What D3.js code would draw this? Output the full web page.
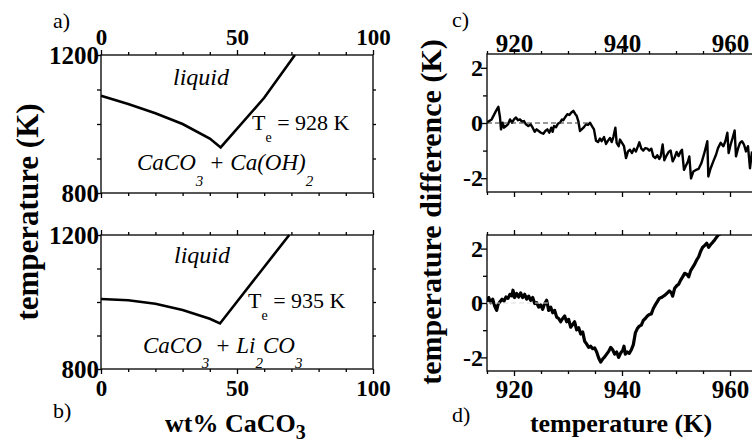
<!DOCTYPE html>
<html>
<head>
<meta charset="utf-8">
<script src="https://cdn.jsdelivr.net/npm/d3@7"></script>
<style>
  body { margin: 0; background: #fff; }
  text { font-family: "Liberation Serif", "Times New Roman", serif; fill: #000; white-space: pre; }
</style>
</head>
<body>
<svg id="fig" width="752" height="445"></svg>
<script>
// liquidus curves (wt% CaCO3, K)
const aWt = [0, 10, 20, 30, 40, 44, 60, 71.3];
const aT = [1082, 1058, 1031, 1000, 958, 932, 1076, 1200];
const bWt = [0, 10, 20, 30, 40, 43.75, 69.2];
const bT = [1009, 1005, 995, 976, 950, 936, 1200];

// c) temperature difference vs temperature
const cTemp = [914.94, 915.86, 916.67, 917.10, 917.41, 917.59, 917.90, 918.15, 918.52, 918.89, 919.26, 919.63, 920.00, 920.37, 920.74, 921.11, 921.48, 921.85, 922.22, 922.65, 923.09, 923.46, 923.83, 924.20, 924.57, 924.94, 925.43, 925.80, 926.17, 926.54, 926.91, 927.16, 927.41, 927.78, 928.15, 928.52, 928.89, 929.14, 929.51, 929.88, 930.25, 930.62, 930.99, 931.36, 931.60, 931.91, 932.22, 932.53, 932.96, 933.33, 933.70, 934.07, 934.44, 934.81, 935.19, 935.56, 935.93, 936.23, 936.67, 937.04, 937.41, 937.78, 938.09, 938.40, 938.77, 939.01, 939.38, 939.63, 940.00, 940.37, 940.74, 941.11, 941.48, 941.85, 942.22, 942.59, 942.96, 943.21, 943.58, 943.95, 944.32, 944.69, 945.06, 945.43, 945.80, 946.17, 946.54, 946.91, 947.16, 947.53, 947.84, 948.27, 948.64, 949.01, 949.38, 949.75, 950.12, 950.49, 950.86, 951.11, 951.48, 951.85, 952.22, 952.47, 952.78, 953.21, 953.70, 954.20, 954.69, 955.19, 955.80, 955.99, 956.42, 956.91, 957.41, 957.78, 958.27, 958.77, 959.14, 959.51, 959.75, 960.12, 960.49, 960.86, 961.11, 961.48, 961.85, 962.22, 962.59, 962.96, 963.33, 963.70, 964.07];
const cDiff = [0.01, 0.13, 0.44, 0.59, 0.20, -0.23, 0.01, -0.17, -0.11, -0.05, 0.13, 0.01, 0.13, 0.20, 0.10, 0.13, 0.05, 0.07, -0.05, -0.11, -0.05, -0.17, -0.32, -0.23, -0.29, -0.35, -0.39, -0.29, -0.23, -0.35, -0.17, -0.32, -0.11, -0.15, -0.02, 0.01, 0.13, 0.10, 0.22, 0.32, 0.29, 0.38, 0.44, 0.32, 0.26, 0.07, -0.29, -0.23, -0.15, -0.05, -0.07, 0.01, -0.11, -0.23, -0.64, -0.69, -0.56, -0.66, -0.51, -0.76, -0.64, -0.54, -0.69, -0.51, -0.17, -0.72, -0.84, -0.60, -0.72, -0.84, -1.27, -1.03, -0.97, -1.09, -0.93, -1.03, -0.84, -0.70, -0.93, -1.00, -0.91, -0.93, -1.00, -0.93, -1.21, -1.27, -1.17, -1.30, -1.21, -0.78, -1.35, -1.17, -1.05, -1.00, -1.39, -1.25, -1.05, -1.20, -1.03, -0.97, -1.70, -1.54, -1.39, -1.21, -2.01, -1.76, -1.70, -1.66, -1.46, -1.13, -0.66, -1.94, -1.64, -1.39, -1.15, -0.91, -0.72, -0.84, -0.66, -0.35, -1.09, -0.78, -0.54, -0.27, -1.21, -0.93, -0.72, -0.66, -0.78, -1.03, -0.84, -1.64, -1.03];

// d) temperature difference vs temperature
const dTemp = [914.94, 915.31, 915.68, 916.05, 916.42, 916.79, 917.04, 917.41, 917.78, 918.15, 918.52, 918.89, 919.26, 919.63, 919.81, 920.12, 920.49, 920.86, 921.23, 921.60, 921.98, 922.35, 922.72, 923.09, 923.46, 923.83, 924.20, 924.57, 924.94, 925.31, 925.68, 926.05, 926.42, 926.79, 927.16, 927.53, 927.90, 928.27, 928.64, 929.01, 929.38, 929.75, 930.12, 930.49, 930.86, 931.23, 931.60, 931.98, 932.35, 932.72, 933.09, 933.46, 933.83, 934.20, 934.57, 934.94, 935.31, 935.68, 936.05, 936.42, 936.79, 937.16, 937.53, 937.90, 938.27, 938.64, 939.01, 939.38, 939.75, 940.12, 940.37, 940.62, 940.99, 941.36, 941.73, 942.10, 942.47, 942.84, 943.21, 943.58, 943.95, 944.32, 944.69, 945.06, 945.43, 945.80, 946.17, 946.54, 946.91, 947.28, 947.65, 948.02, 948.40, 948.77, 949.14, 949.38, 949.75, 950.12, 950.49, 950.86, 951.23, 951.60, 951.98, 952.35, 952.72, 953.09, 953.46, 953.83, 954.20, 954.57, 954.94, 955.31, 955.68, 956.05, 956.42, 956.79, 957.16, 957.53, 957.90, 958.27];
const dDiff = [0.05, 0.20, 0.01, 0.14, -0.11, -0.27, -0.05, 0.05, 0.14, 0.07, 0.22, 0.17, 0.32, 0.26, 0.47, 0.20, 0.35, 0.22, 0.37, 0.20, 0.32, 0.14, 0.25, 0.10, 0.20, -0.02, 0.01, -0.15, -0.07, -0.23, -0.02, 0.10, -0.27, -0.15, -0.36, -0.27, -0.52, -0.57, -0.69, -0.57, -0.48, -0.69, -0.60, -0.89, -0.79, -0.69, -0.99, -0.91, -1.14, -1.06, -1.41, -1.51, -1.63, -1.59, -1.68, -1.65, -1.80, -2.02, -2.17, -2.06, -1.98, -1.88, -1.78, -1.63, -1.72, -1.88, -1.80, -2.00, -1.84, -1.75, -1.59, -1.88, -1.80, -1.85, -1.72, -1.53, -1.10, -0.94, -0.85, -0.81, -0.64, -0.57, -0.48, -0.42, -0.40, -0.20, -0.07, 0.05, 0.17, 0.20, 0.25, 0.30, 0.37, 0.44, 0.38, 0.25, 0.54, 0.63, 0.69, 0.84, 0.96, 1.09, 1.06, 0.96, 1.19, 1.31, 1.43, 1.58, 1.70, 1.90, 2.05, 2.11, 2.20, 2.05, 2.15, 2.23, 2.32, 2.42, 2.52, 2.54];

// zero reference segments (temperature extent)
const cZero = [915, 934];
const dZero = [915, 926.5];

// tick values
const wtMajor = [0, 50, 100];
const wtMinor = d3.range(10, 100, 10).filter(d => d !== 50);
const tMajor = [800, 1200];
const tMinor = [900, 1000, 1100];
const kMajor = [920, 940, 960];
const kMinor = [915, 925, 930, 935, 945, 950, 955, 965];
const dfMajor = [-2, 0, 2];
const dfMinor = [-1, 1];

const svg = d3.select("#fig");

const xWt = d3.scaleLinear().domain([0, 100]).range([101, 373]);
const yA = d3.scaleLinear().domain([800, 1200]).range([193, 55]);
const yB = d3.scaleLinear().domain([800, 1200]).range([369, 235]);
const xK = d3.scaleLinear().domain([915, 970]).range([487, 784]);
const yC = d3.scaleLinear().domain([-2.5, 2.5]).range([192, 54]);
const yD = d3.scaleLinear().domain([-2.5, 2.5]).range([371, 235]);

const axisOf = { top: d3.axisTop, bottom: d3.axisBottom, left: d3.axisLeft, right: d3.axisRight };

function place(orient, at) {
  return (orient === "top" || orient === "bottom") ? "translate(0," + at + ")" : "translate(" + at + ",0)";
}

function marks(orient, scale, at, values, size) {
  svg.append("g").attr("transform", place(orient, at))
    .call(axisOf[orient](scale).tickValues(values).tickSize(size).tickFormat(""))
    .call(g => g.select(".domain").remove())
    .call(g => g.selectAll("line").attr("stroke", "#000").attr("stroke-width", 1.3));
}

function labels(orient, scale, at, values, pad, size) {
  svg.append("g").attr("transform", place(orient, at))
    .call(axisOf[orient](scale).tickValues(values).tickSize(0).tickPadding(pad).tickFormat(d => String(d)))
    .call(g => g.select(".domain").remove())
    .call(g => g.selectAll("text")
      .attr("font-family", "Liberation Serif, Times New Roman, serif")
      .attr("font-weight", "bold")
      .attr("font-size", size)
      .attr("fill", "#000"));
}

function frame(x, y) {
  const [x0, x1] = x.range(), [y0, y1] = y.range();
  svg.append("rect")
    .attr("x", x0).attr("y", y1)
    .attr("width", x1 - x0).attr("height", y0 - y1)
    .attr("fill", "none").attr("stroke", "#111").attr("stroke-width", 1.4);
}

function clip(id, x, y) {
  const [x0, x1] = x.range(), [y0, y1] = y.range();
  svg.append("clipPath").attr("id", id).append("rect")
    .attr("x", x0).attr("y", y1).attr("width", x1 - x0).attr("height", y0 - y1);
}

// text with subscripts: parts = [[string, isSub, drop, subSize], ...]
function rich(x, y, parts, size, style, weight, anchor) {
  const t = svg.append("text").attr("x", x).attr("y", y)
    .attr("font-size", size).attr("font-style", style || "normal")
    .attr("font-weight", weight || "normal").attr("text-anchor", anchor || "start");
  let down = false;
  parts.forEach(([s, sub, drop, subSize]) => {
    const ts = t.append("tspan").text(s);
    if (sub && !down) { ts.attr("dy", drop).attr("font-size", subSize); down = drop; }
    else if (!sub && down) { ts.attr("dy", -down); down = false; }
  });
  return t;
}

// ---------- left panels ----------
[[yA, aWt, aT], [yB, bWt, bT]].forEach(([y, wt, T]) => {
  frame(xWt, y);
  const top = y.range()[1], bot = y.range()[0];
  marks("top", xWt, top, wtMinor, 3);
  marks("top", xWt, top, wtMajor, 5);
  marks("bottom", xWt, bot, wtMinor, 3);
  marks("bottom", xWt, bot, wtMajor, 5);
  marks("left", y, 101, tMinor, 4);
  marks("left", y, 101, tMajor, 6);
  marks("right", y, 373, tMinor, 3);
  labels("left", y, 101, tMajor, 2, 25);
  const line = d3.line().x((d, i) => xWt(wt[i])).y((d, i) => y(T[i]));
  svg.append("path").datum(wt).attr("d", line)
    .attr("fill", "none").attr("stroke", "#000").attr("stroke-width", 2.6)
    .attr("stroke-linejoin", "miter");
});
labels("top", xWt, 55, wtMajor, 10, 23);
labels("bottom", xWt, 369, wtMajor, 11, 23);

svg.append("text").attr("x", 201).attr("y", 85).attr("text-anchor", "middle")
  .attr("font-size", 24).attr("font-style", "italic").text("liquid");
svg.append("text").attr("x", 202).attr("y", 263).attr("text-anchor", "middle")
  .attr("font-size", 24).attr("font-style", "italic").text("liquid");

rich(252, 130, [["T"], ["e", true, 12, 14], [" = 928 K"]], 22);
rich(248, 308, [["T"], ["e", true, 12, 14], [" = 935 K"]], 22);

rich(137, 170, [["CaCO"], ["3", true, 16, 15], [" + Ca(OH)"], ["2", true, 16, 15]], 23, "italic");
rich(143, 353, [["CaCO"], ["3", true, 15, 15], [" + Li"], ["2", true, 15, 15], ["CO"], ["3", true, 15, 15]], 23, "italic");

svg.append("text").attr("transform", "translate(38,212) rotate(-90)")
  .attr("text-anchor", "middle").attr("font-size", 31).attr("font-weight", "bold")
  .text("temperature (K)");
rich(165, 432, [["wt% CaCO"], ["3", true, 7, 20]], 26, "normal", "bold");

svg.append("text").attr("x", 53).attr("y", 28).attr("font-size", 22).text("a)");
svg.append("text").attr("x", 53).attr("y", 418).attr("font-size", 22).text("b)");

// ---------- right panels ----------
[[yC, cTemp, cDiff, cZero, "clipC", "#333", 2.4], [yD, dTemp, dDiff, dZero, "clipD", "#ddd", 3.2]].forEach(([y, tx, dv, zero, id, zc, sw]) => {
  clip(id, xK, y);
  frame(xK, y);
  const top = y.range()[1], bot = y.range()[0];
  marks("top", xK, top, kMinor, 3);
  marks("top", xK, top, kMajor, 5);
  marks("bottom", xK, bot, kMinor, 3);
  marks("bottom", xK, bot, kMajor, 5);
  marks("left", y, 487, dfMinor, 4);
  marks("left", y, 487, dfMajor, 6);
  labels("left", y, 487, dfMajor, 4, 24);
  const line = d3.line().x((d, i) => xK(tx[i])).y((d, i) => y(dv[i]));
  const g = svg.append("g").attr("clip-path", "url(#" + id + ")");
  g.append("path").datum(tx).attr("d", line)
    .attr("fill", "none").attr("stroke", "#000").attr("stroke-width", sw)
    .attr("stroke-linejoin", "round");
  g.append("line")
    .attr("x1", xK(zero[0])).attr("x2", xK(zero[1]))
    .attr("y1", y(0)).attr("y2", y(0))
    .attr("stroke", zc).attr("stroke-width", 1).attr("stroke-dasharray", "5,3");
});
labels("top", xK, 54, kMajor, 2, 25);
labels("bottom", xK, 371, kMajor, 9, 25);

svg.append("text").attr("transform", "translate(441,212) rotate(-90)")
  .attr("text-anchor", "middle").attr("font-size", 30).attr("font-weight", "bold")
  .text("temperature difference (K)");
svg.append("text").attr("x", 621).attr("y", 432).attr("text-anchor", "middle")
  .attr("font-size", 26).attr("font-weight", "bold").text("temperature (K)");

svg.append("text").attr("x", 452).attr("y", 27).attr("font-size", 22).text("c)");
svg.append("text").attr("x", 452).attr("y", 422).attr("font-size", 22).text("d)");
</script>
</body>
</html>
